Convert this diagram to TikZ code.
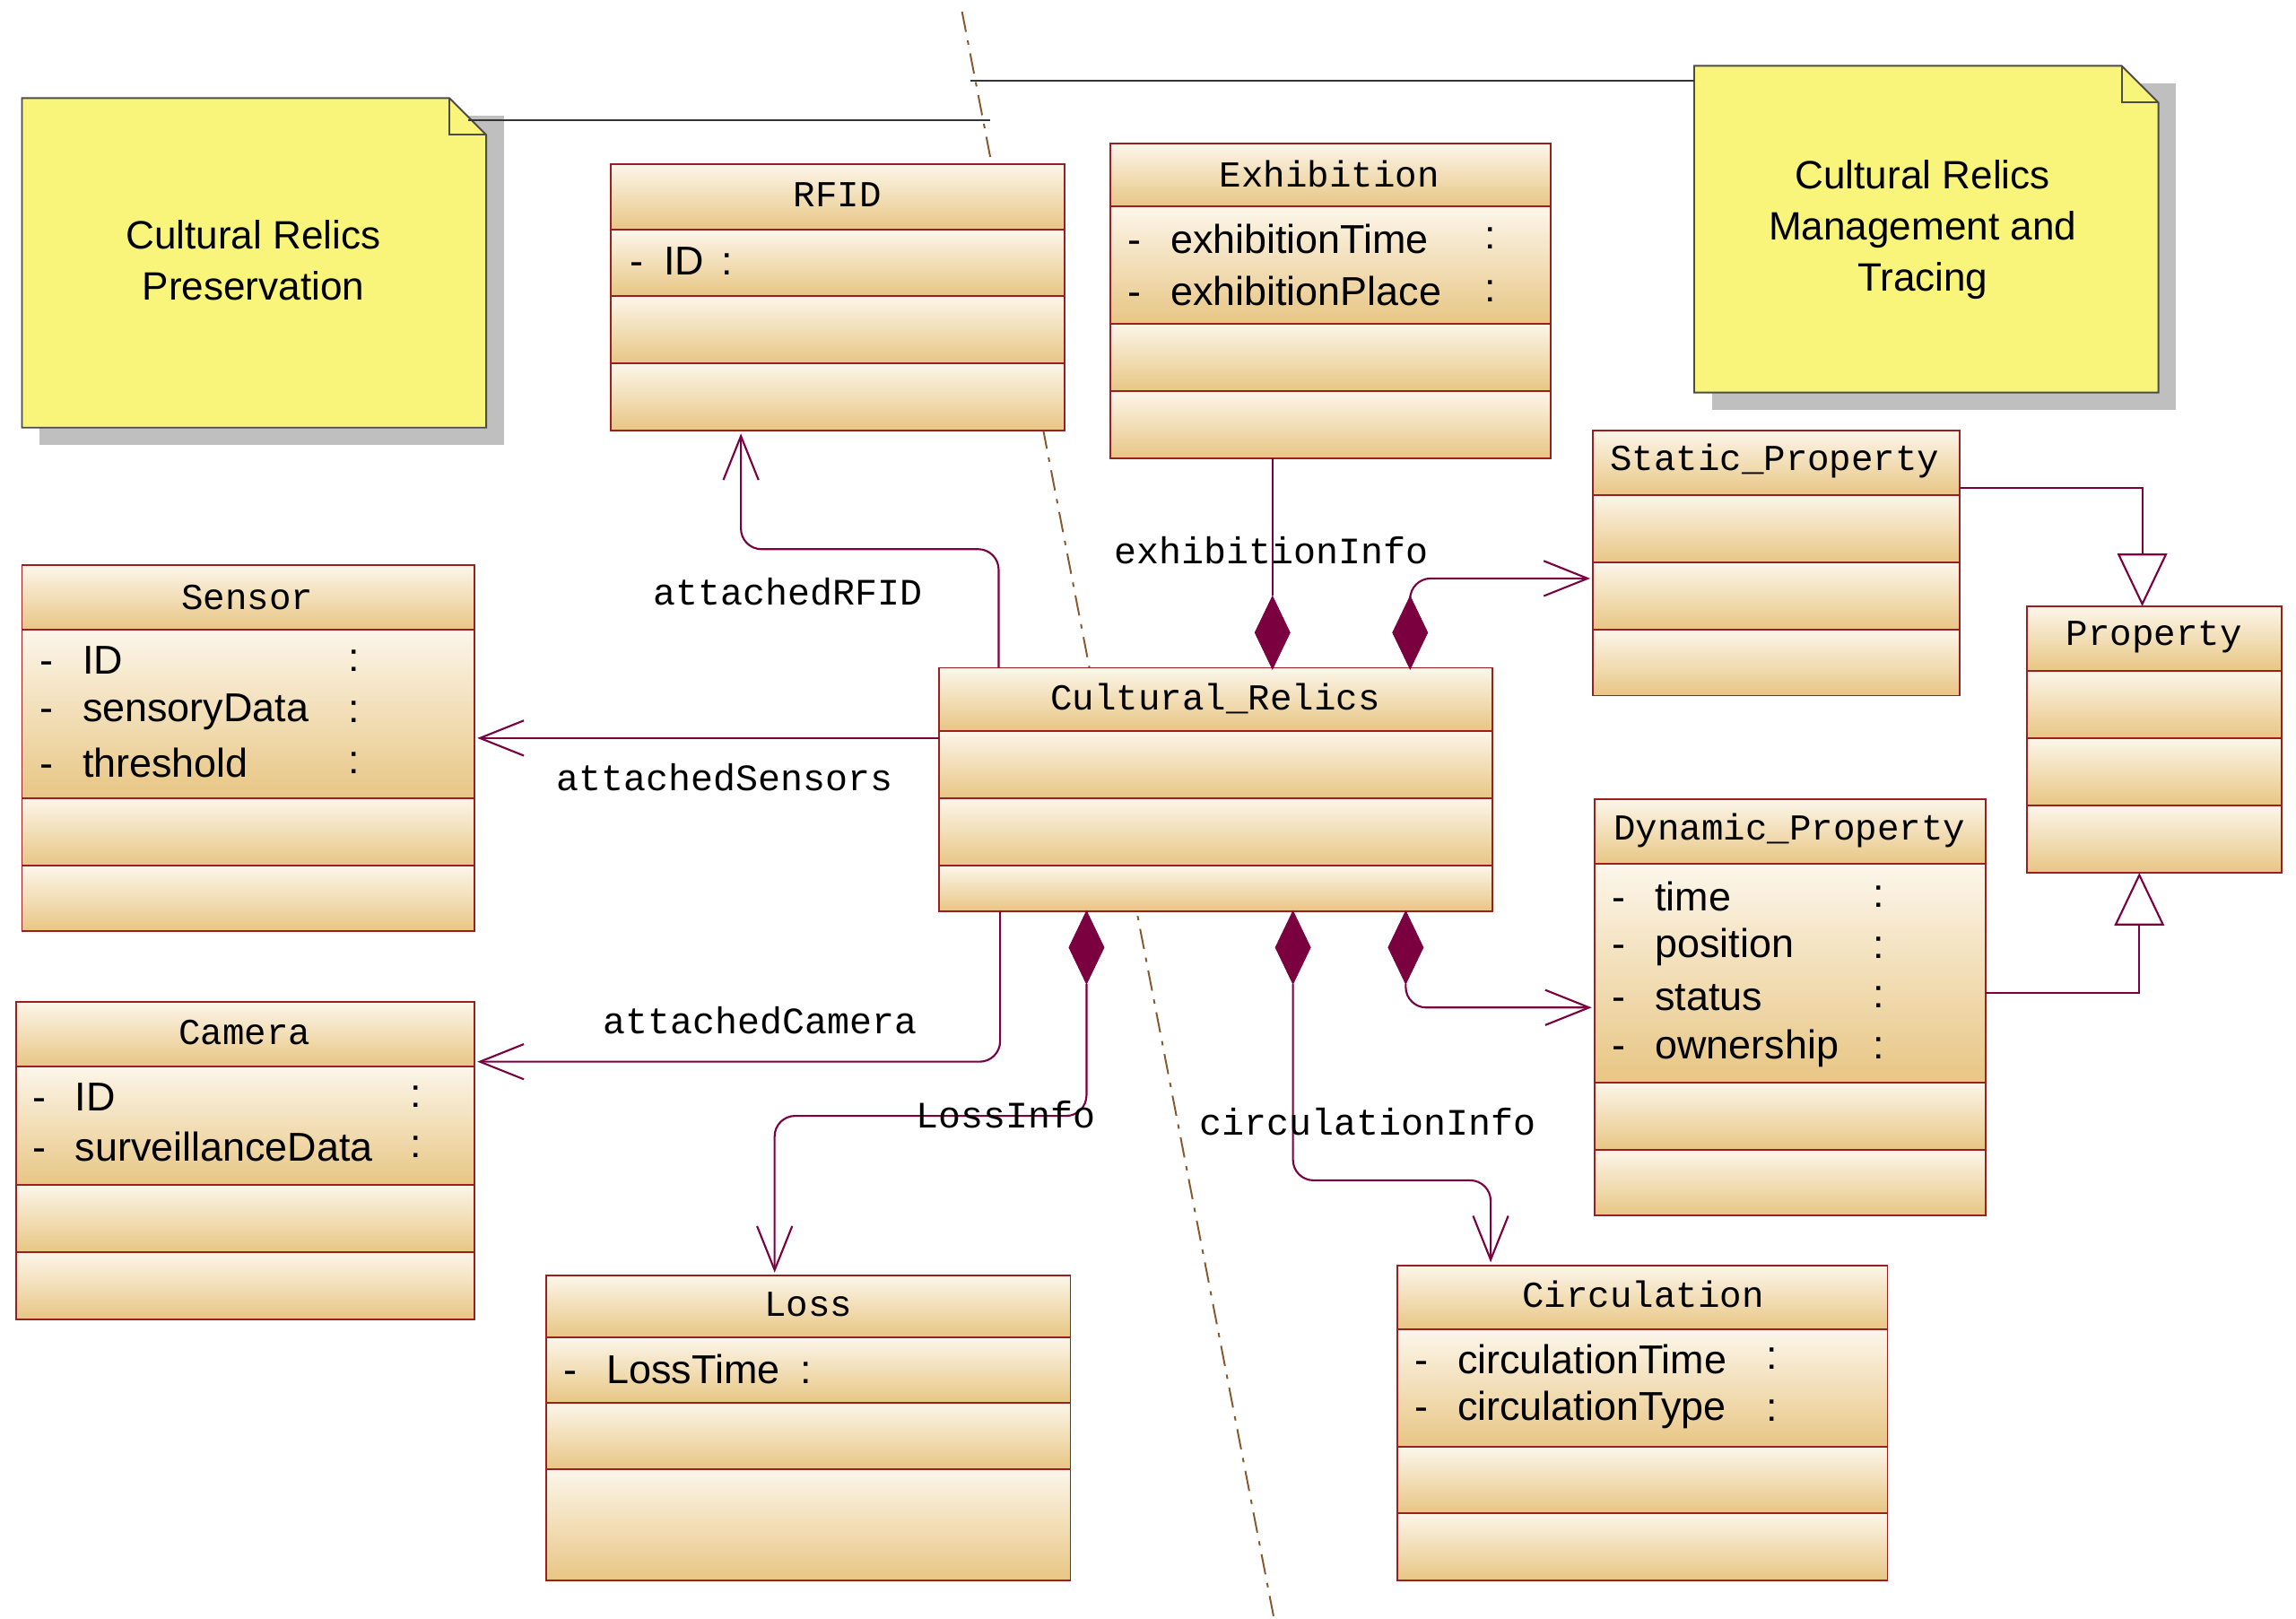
\documentclass[tikz,border=0pt]{standalone}
\usepackage{fontspec}
\setmainfont{Liberation Sans}
\newfontfamily\monof{Liberation Mono}
\usetikzlibrary{arrows.meta}
\definecolor{bd}{HTML}{9A1F1F}
\definecolor{cn}{HTML}{7A0040}
\definecolor{tl}{HTML}{FCF6EA}
\definecolor{tb}{HTML}{E8C684}
\definecolor{nt}{HTML}{F8F57A}
\tikzset{
  comp/.style={draw=bd,line width=1.2pt,top color=tl,bottom color=tb},
  ttl/.style={font=\monof\fontsize{25}{27}\selectfont,inner sep=0pt},
  att/.style={font=\fontsize{27.5}{30}\selectfont,inner sep=0pt,anchor=west},
  lbl/.style={font=\monof\fontsize{25.5}{27}\selectfont,inner sep=0pt,fill=none},
  conn/.style={draw=cn,line width=1.3pt,rounded corners=14pt},
  barb/.style={-{Straight Barb[length=30pt,width=24pt,line width=1.3pt]}},
  gen/.style={-{Triangle[open,length=36pt,width=34pt,line width=1.3pt,fill=white]}},
  note/.style={draw=black!70,line width=1.2pt,fill=nt},
  dia/.style={fill=cn,draw=cn}
}
\newcommand{\cmp}[4]{\path[comp] (#1,#2) rectangle (#3,#4);}
\newcommand{\dmd}[2]{\path[dia] (#1,#2) -- (#1+12,#2+25) -- (#1,#2+50) -- (#1-12,#2+25) -- cycle;}
\begin{document}
\begin{tikzpicture}[x=1pt,y=-1pt]
\useasboundingbox[fill=white] (0,0) rectangle (1568,1105);
% dashed line
\draw[draw=brown!70!black,line width=1.2pt,dash pattern=on 14pt off 6pt on 3pt off 6pt] (657,8) -- (870,1105);
% notes
\fill[black!25] (27,79) rectangle (344,304);
\path[note] (15,67) -- (307,67) -- (332,92) -- (332,292) -- (15,292) -- cycle;
\draw[black!70,line width=1.2pt] (307,67) -- (307,92) -- (332,92);
\node[align=center,font=\fontsize{27}{35}\selectfont] (n1) at (173,178) {Cultural Relics\\Preservation};
\fill[black!25] (1169,57) rectangle (1486,280);
\path[note] (1157,45) -- (1449,45) -- (1474,70) -- (1474,268) -- (1157,268) -- cycle;
\draw[black!70,line width=1.2pt] (1449,45) -- (1449,70) -- (1474,70);
\node[align=center,font=\fontsize{27}{35}\selectfont] (n2) at (1313,157) {Cultural Relics\\Management and\\Tracing};
\draw[black!80,line width=1.2pt] (320,82) -- (676,82);
\draw[black!80,line width=1.2pt] (663,55) -- (1157,55);
% RFID
\cmp{417}{112}{727}{157}\cmp{417}{157}{727}{202}\cmp{417}{202}{727}{248}\cmp{417}{248}{727}{294}
\node[ttl] (rfid) at (572,133) {RFID};
\node[att] at (430,178) {-\hspace{14pt}ID\hspace{12pt}:};
% Exhibition
\cmp{758}{98}{1059}{141}\cmp{758}{141}{1059}{221}\cmp{758}{221}{1059}{267}\cmp{758}{267}{1059}{313}
\node[ttl] (exh) at (908,119) {Exhibition};
\node[att] at (770,163) {-\hspace{20pt}exhibitionTime};
\node[att] at (770,199) {-\hspace{20pt}exhibitionPlace};
\node[att] at (1014,163) {:};\node[att] at (1014,199) {:};
% Static
\cmp{1088}{294}{1338}{338}\cmp{1088}{338}{1338}{384}\cmp{1088}{384}{1338}{430}\cmp{1088}{430}{1338}{475}
\node[ttl] (sp) at (1212,315) {Static\_Property};
% Property
\cmp{1384}{414}{1558}{458}\cmp{1384}{458}{1558}{504}\cmp{1384}{504}{1558}{550}\cmp{1384}{550}{1558}{596}
\node[ttl] (prop) at (1471,435) {Property};
% Sensor
\cmp{15}{386}{324}{430}\cmp{15}{430}{324}{545}\cmp{15}{545}{324}{591}\cmp{15}{591}{324}{636}
\node[ttl] (sen) at (169,408) {Sensor};
\node[att] at (27,451) {-\hspace{20pt}ID};
\node[att] at (27,486) {-\hspace{20pt}sensoryData};
\node[att] at (27,521) {-\hspace{20pt}threshold};
\foreach \yy in {451,486,521} \node[att] at (238,\yy) {:};
% Cultural relics
\cmp{641}{456}{1019}{499}\cmp{641}{499}{1019}{545}\cmp{641}{545}{1019}{591}\cmp{641}{591}{1019}{622}
\node[ttl] (cr) at (830,477) {Cultural\_Relics};
% Dynamic
\cmp{1089}{546}{1356}{590}\cmp{1089}{590}{1356}{739}\cmp{1089}{739}{1356}{785}\cmp{1089}{785}{1356}{830}
\node[ttl] (dp) at (1222,567) {Dynamic\_Property};
\node[att] at (1101,612) {-\hspace{20pt}time};
\node[att] at (1101,647) {-\hspace{20pt}position};
\node[att] at (1101,681) {-\hspace{20pt}status};
\node[att] at (1101,716) {-\hspace{20pt}ownership};
\foreach \yy in {612,647,681,716} \node[att] at (1279,\yy) {:};
% Camera
\cmp{11}{684}{324}{728}\cmp{11}{728}{324}{809}\cmp{11}{809}{324}{855}\cmp{11}{855}{324}{901}
\node[ttl] (cam) at (167,705) {Camera};
\node[att] at (22,749) {-\hspace{20pt}ID};
\node[att] at (22,783) {-\hspace{20pt}surveillanceData};
\node[att] at (280,749) {:};\node[att] at (280,783) {:};
% Loss
\cmp{373}{871}{731}{913}\cmp{373}{913}{731}{958}\cmp{373}{958}{731}{1003}\cmp{373}{1003}{731}{1079}
\node[ttl] (loss) at (552,891) {Loss};
\node[att] at (385,935) {-\hspace{20pt}LossTime\hspace{14pt}:};
% Circulation
\cmp{954}{864}{1289}{908}\cmp{954}{908}{1289}{988}\cmp{954}{988}{1289}{1033}\cmp{954}{1033}{1289}{1079}
\node[ttl] (circ) at (1122,884) {Circulation};
\node[att] at (966,928) {-\hspace{20pt}circulationTime};
\node[att] at (966,963) {-\hspace{20pt}circulationType};
\node[att] at (1206,928) {:};\node[att] at (1206,963) {:};
% connectors
\draw[conn,barb] (682,456) -- (682,375) -- (506,375) -- (506,296);
\draw[conn] (869,313) -- (869,407);
\dmd{869}{407}
\dmd{963}{407}
\draw[conn,barb] (963,407) -- (963,395) -- (1086,395);
\draw[conn,barb] (641,504) -- (326,504);
\draw[conn,barb] (683,622) -- (683,725) -- (326,725);
\dmd{742}{622}
\draw[conn,barb] (742,672) -- (742,762) -- (529,762) -- (529,869);
\dmd{883}{622}
\draw[conn,barb] (883,672) -- (883,806) -- (1018,806) -- (1018,862);
\dmd{960}{622}
\draw[conn,barb] (960,672) -- (960,688) -- (1087,688);
\draw[conn,gen,rounded corners=0pt] (1338,333) -- (1463,333) -- (1463,414);
\draw[conn,gen,rounded corners=0pt] (1356,678) -- (1461,678) -- (1461,596);
% labels
\node[lbl] at (538,404) {attachedRFID};
\node[lbl] at (868,376) {exhibitionInfo};
\node[lbl] at (495,531) {attachedSensors};
\node[lbl] at (519,697) {attachedCamera};
\node[lbl] at (687,761) {LossInfo};
\node[lbl] at (934,766) {circulationInfo};
\end{tikzpicture}
\end{document}
